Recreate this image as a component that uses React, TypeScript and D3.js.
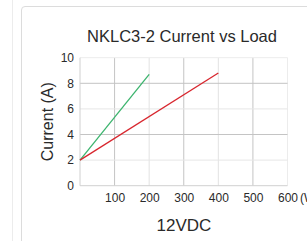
import * as d3 from 'd3';
import { FC } from 'react';

// load in watts vs current in amps
const greenLoad = [0, 200];
const greenCurrent = [2, 8.7];
const redLoad = [0, 400];
const redCurrent = [2, 8.8];
const xTicks = [100, 200, 300, 400, 500, 600];
const yTicks = [0, 2, 4, 6, 8, 10];

const W = 307;
const H = 241;
const margin = { top: 57.7, right: 19.5, bottom: 55.3, left: 80 };

const font = 'Liberation Sans, Arial, sans-serif';

const Chart: FC = () => {
  const x = d3.scaleLinear().domain([0, 600]).range([margin.left, W - margin.right]);
  const y = d3.scaleLinear().domain([0, 10]).range([H - margin.bottom, margin.top]);

  const line = d3
    .line<[number, number]>()
    .x((d) => x(d[0]))
    .y((d) => y(d[1]));

  const green = greenLoad.map((v, i) => [v, greenCurrent[i]] as [number, number]);
  const red = redLoad.map((v, i) => [v, redCurrent[i]] as [number, number]);

  const x0 = x(0);
  const x1 = x(600);
  const y0 = y(0);
  const y1 = y(10);

  return (
    <svg width={W} height={H} style={{ position: 'absolute', left: 0, top: 0 }}>
      <rect width={W} height={H} fill="#fff" />
      {/* side panel edge */}
      <line x1={12.5} x2={12.5} y1={0} y2={H} stroke="#ececec" />
      {/* card */}
      <path d={`M21.5,${H} L21.5,10 Q21.5,6.5 25,6.5 L${W},6.5`} fill="none" stroke="#dcdcdc" />

      {/* grid */}
      {xTicks.map((t, i) => (
        <line key={'gx' + t} x1={x(t)} x2={x(t)} y1={y1} y2={y0}
          stroke={t === 600 ? '#ececec' : i % 2 === 0 ? '#c4c4c4' : '#e2e2e2'} />
      ))}
      {yTicks.filter((t) => t > 0).map((t, i) => (
        <line key={'gy' + t} x1={x0} x2={x1} y1={y(t)} y2={y(t)}
          stroke={t === 10 ? '#ececec' : i % 2 === 0 ? '#e6e6e6' : '#c4c4c4'} />
      ))}
      <line x1={x0} x2={x0} y1={y1} y2={y0} stroke="#d0d0d0" />
      <line x1={x0} x2={x1} y1={y0} y2={y0} stroke="#d0d0d0" />

      <path d={line(green)!} fill="none" stroke="#3cb46e" strokeWidth={1.3} />
      <path d={line(red)!} fill="none" stroke="#d8262e" strokeWidth={1.3} />

      {yTicks.map((t) => (
        <text key={'yl' + t} x={x0 - 6} y={y(t) + 4.3} textAnchor="end"
          fontFamily={font} fontSize={12} fill="#2a2a2a">{t}</text>
      ))}
      {xTicks.map((t) => (
        <text key={'xl' + t} x={x(t) + 0.5} y={201.7} textAnchor="middle"
          fontFamily={font} fontSize={12} fill="#2a2a2a">{t}</text>
      ))}
      <text x={x(600) + 12.5} y={201.7} fontFamily={font} fontSize={12} fill="#2a2a2a">(W)</text>

      <text x={182} y={41.7} textAnchor="middle" fontFamily={font} fontSize={16.5} fill="#2a2a2a">
        NKLC3-2 Current vs Load
      </text>
      <text x={184} y={231} textAnchor="middle" fontFamily={font} fontSize={17} fill="#2a2a2a">
        12VDC
      </text>
      <text transform={`translate(52.5,${(y0 + y1) / 2}) rotate(-90)`} textAnchor="middle"
        fontFamily={font} fontSize={16} fill="#2a2a2a">Current (A)</text>
    </svg>
  );
};

export default function App() {
  return <Chart />;
}
